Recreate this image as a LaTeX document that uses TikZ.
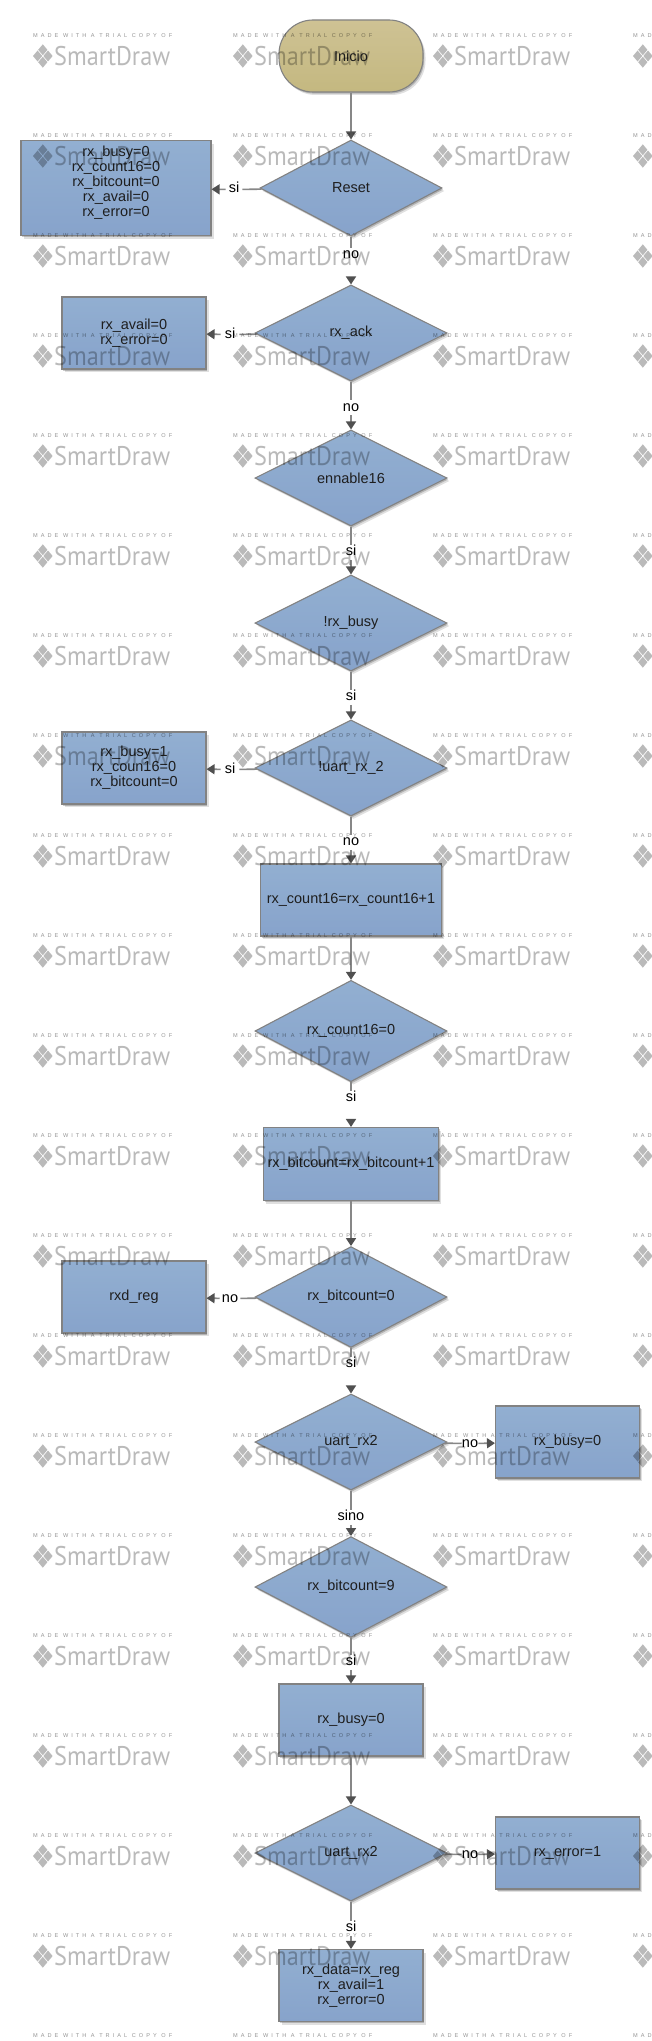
\documentclass[tikz,border=0pt]{standalone}
\usepackage{fontspec}
\setmainfont{Liberation Sans}
\newfontfamily\wmfont[LetterSpace=54]{Liberation Sans}
\newfontfamily\logofont{PT Sans}
\usetikzlibrary{shapes.geometric,positioning,arrows.meta,shadows}
\definecolor{boxtop}{RGB}{146,175,209}
\definecolor{boxbot}{RGB}{135,163,203}
\definecolor{starttop}{RGB}{206,194,148}
\definecolor{startbot}{RGB}{196,184,128}
\definecolor{edgegray}{RGB}{130,130,130}
\definecolor{linegray}{RGB}{135,135,135}
\definecolor{tipgray}{RGB}{80,80,80}
\definecolor{inkgray}{RGB}{30,30,30}
\tikzset{
  shape base/.style={draw=edgegray,line width=1.1pt,top color=boxtop,bottom color=boxbot,text=inkgray,
    font=\fontsize{14.5}{15}\selectfont,align=center,inner sep=0pt,
    drop shadow={shadow xshift=2.5pt,shadow yshift=-3pt,opacity=.12,fill=black},
    drop shadow={shadow xshift=1.2pt,shadow yshift=-1.6pt,opacity=.2,fill=black}},
  decision/.style={shape base,diamond,minimum width=192pt,minimum height=96pt},
  action/.style={shape base,rectangle,minimum width=144pt,minimum height=72pt},
  terminal/.style={action,rounded corners=34pt,top color=starttop,bottom color=startbot},
  lbl/.style={anchor=base,fill=white,text=black,font=\fontsize{14.5}{15}\selectfont,
    inner xsep=1pt,inner ysep=1pt,text height=10pt,text depth=3pt},
  link/.style={draw=linegray,line width=1.6pt},
  flow/.style={link,-{Triangle[length=8pt,width=10pt,color=tipgray]}},
  markline/.style={anchor=west,inner sep=0pt,opacity=.42,font=\wmfont\fontsize{5.6}{6}\selectfont},
  marklogo/.style={anchor=west,inner sep=0pt,opacity=.27,xscale=.9,font=\logofont\fontsize{27}{28}\selectfont},
}
\begin{document}
\begin{tikzpicture}[x=1pt,y=-1pt]
  \useasboundingbox (0,0) rectangle (652,2041);
  \fill[white] (0,0) rectangle (652,2041);
  \clip (0,0) rectangle (652,2041);

  % main column
  \node[terminal] (inicio) at (351,56) {Inicio};
  \node[decision,minimum width=182pt] (reset) at (351,188) {Reset};
  \node[decision] (ack) at (351,333) {rx\_ack};
  \node[decision] (enable) at (351,478) {ennable16};
  \node[decision] (busy) at (351,623) {!rx\_busy};
  \node[decision] (uartb) at (351,768) {!uart\_rx\_2};
  \node[action,minimum width=181pt] (inc16) at (351,900) {rx\_count16=rx\_count16+1};
  \node[decision] (zero16) at (351,1031) {rx\_count16=0};
  \node[action,minimum width=175pt,minimum height=73pt] (incbit) at (351,1164) {rx\_bitcount=rx\_bitcount+1};
  \node[decision] (zerobit) at (351,1297) {rx\_bitcount=0};
  \node[decision] (uarta) at (351,1442) {uart\_rx2};
  \node[decision] (ninebit) at (351,1587) {rx\_bitcount=9};
  \node[action] (clrbusy) at (351,1720) {rx\_busy=0};
  \node[decision] (uartc) at (351,1853) {uart\_rx2};
  \node[action] (done) at (351,1985.5) {rx\_data=rx\_reg\\rx\_avail=1\\rx\_error=0};

  % side boxes
  \node[action,minimum width=190pt,minimum height=95pt] (clrall) at (116,188.3) {rx\_busy=0\\rx\_count16=0\\rx\_bitcount=0\\rx\_avail=0\\rx\_error=0\\~};
  \node[action] (clrack) at (134,333) {rx\_avail=0\\rx\_error=0};
  \node[action] (setbusy) at (134,768) {rx\_busy=1\\rx\_coun16=0\\rx\_bitcount=0};
  \node[action] (rxd) at (134,1297) {rxd\_reg};
  \node[action] (idle) at (567.5,1442) {rx\_busy=0};
  \node[action] (fail) at (567.5,1853) {rx\_error=1};

  % labels sit on the links
  \node[lbl,inner xsep=3pt] (l1) at (234,193) {si};
  \node[lbl,text depth=23pt] (l2) at (351,259) {no};
  \node[lbl,inner xsep=4pt] (l3) at (230,338) {si};
  \node[lbl] (l4) at (351,411) {no};
  \node[lbl] (l5) at (351,555.7) {si};
  \node[lbl] (l6) at (351,700.7) {si};
  \node[lbl,inner xsep=4pt] (l7) at (230,773) {si};
  \node[lbl] (l8) at (351,845.7) {no};
  \node[lbl,text depth=23pt] (l9) at (351,1101.7) {si};
  \node[lbl,inner xsep=2pt] (l10) at (230,1302) {no};
  \node[lbl,text depth=23pt] (l11) at (351,1367.7) {si};
  \node[lbl,inner xsep=0pt] (l12) at (470,1447) {no};
  \node[lbl] (l13) at (351,1520.7) {sino};
  \node[lbl] (l14) at (351,1665.7) {si};
  \node[lbl,inner xsep=0pt] (l15) at (470,1858) {no};
  \node[lbl] (l16) at (351,1931.7) {si};

  \foreach \from/\to in {inicio/reset,inc16/zero16,incbit/zerobit,clrbusy/uartc,l1/clrall,l2/ack,l3/clrack,
    l4/enable,l5/busy,l6/uartb,l7/setbusy,l8/inc16,l9/incbit,l10/rxd,l11/uarta,l12/idle,l13/ninebit,
    l14/clrbusy,l15/fail,l16/done}
    \draw[flow] (\from) -- (\to);
  \foreach \from/\to in {reset/l1,reset/l2,ack/l3,ack/l4,enable/l5,busy/l6,uartb/l7,uartb/l8,zero16/l9,
    zerobit/l10,zerobit/l11,uarta/l12,uarta/l13,ninebit/l14,uartc/l15,uartc/l16}
    \draw[link] (\from) -- (\to);

  % trial copy marks over everything
  \foreach \col in {0,1,2,3} {
    \foreach \row in {0,1,...,20} {
      \pgfmathsetmacro{\wx}{33+200*\col}
      \pgfmathsetmacro{\wy}{36+100*\row}
      \node[markline] at (\wx,\wy) {MADE WITH A TRIAL COPY OF};
      \node[marklogo] at (\wx+21,\wy+20) {SmartDraw};
      \foreach \dx/\dy in {-5.2/0,5.2/0,0/-6.2,0/6.2}
        \fill[opacity=.27] ({\wx+9.8+\dx-4.6},\wy+20+\dy) -- ({\wx+9.8+\dx},\wy+20+\dy-5.5) -- ({\wx+9.8+\dx+4.6},\wy+20+\dy) -- ({\wx+9.8+\dx},\wy+20+\dy+5.5) -- cycle;
    }
  }
\end{tikzpicture}
\end{document}
